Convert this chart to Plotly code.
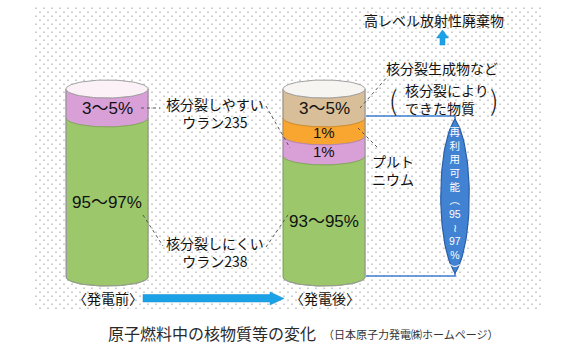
import numpy as np
import plotly.graph_objects as go

# ---------------- data ----------------
stages = ["〈発電前〉", "〈発電後〉"]
before_labels = ["3～5%", "95～97%"]
before_heights = [29, 159]
before_colors = ["#d9a0d8", "#9cc86b"]
after_labels = ["3～5%", "1%", "1%", "93～95%"]
after_heights = [29, 18, 20, 121]
after_colors = ["#d9bf99", "#f9a630", "#d9a0d8", "#9cc86b"]
label_sizes_before = [17, 17]
label_sizes_after = [17, 15, 15, 17]
reuse_chars = ["再", "利", "用", "可", "能", "︵", "95", "≀", "97", "%", "︶"]

FONT = "Noto Sans CJK JP, Noto Sans, sans-serif"
NUMFONT = "Liberation Sans, Arial, Noto Sans CJK JP, sans-serif"
W, H = 563, 350
RX, RY = 41, 9
TOP = 89
CX = [107, 324]

fig = go.Figure()

# ---------------- dotted background ----------------
dx, dy = [], []
row = 0
yy = 8.3
while yy <= 312:
    xx = 36 + (4 if row % 2 else 0)
    while xx <= 540:
        dx.append(xx)
        dy.append(yy)
        xx += 8
    yy += 4
    row += 1
fig.add_trace(go.Scatter(x=dx, y=dy, mode="markers", hoverinfo="skip",
                         marker=dict(symbol="square", size=1.4, color="#b8b8b8",
                                     line=dict(width=0))))


def arc(cx, y, t0, t1, n=40):
    t = np.linspace(t0, t1, n)
    return list(cx + RX * np.cos(t)), list(y + RY * np.sin(t))


def darker(hexc, f=0.8):
    h = hexc.lstrip("#")
    r, g, b = (int(h[i:i + 2], 16) for i in (0, 2, 4))
    return "#%02x%02x%02x" % (int(r * f), int(g * f), int(b * f))


def cylinder(cx, heights, colors, labels, sizes, topcol):
    edges = [TOP]
    for h in heights:
        edges.append(edges[-1] + h)
    for i, (h, c) in enumerate(zip(heights, colors)):
        y0, y1 = edges[i], edges[i + 1]
        ax1, ay1 = arc(cx, y1, np.pi, 0)
        ax0, ay0 = arc(cx, y0, 0, np.pi)
        fig.add_trace(go.Scatter(x=ax1 + ax0 + [ax1[0]], y=ay1 + ay0 + [ay1[0]],
                                 mode="lines", fill="toself", fillcolor=c,
                                 line=dict(color=darker(c, 0.85), width=1),
                                 hoverinfo="skip"))
        fig.add_annotation(x=cx, y=(y0 + y1) / 2 + RY * 0.6, text=labels[i],
                           showarrow=False, xanchor="center", yanchor="middle",
                           borderpad=0,
                           font=dict(family=NUMFONT, size=sizes[i], color="#111111"))
    bx, by = arc(cx, edges[-1], np.pi, 0)
    fig.add_trace(go.Scatter(x=[cx - RX] + bx + [cx + RX], y=[TOP] + by + [TOP],
                             mode="lines", line=dict(color="#9a9a9a", width=1),
                             hoverinfo="skip"))
    tx, ty = arc(cx, TOP, 0, 2 * np.pi, 80)
    fig.add_trace(go.Scatter(x=tx, y=ty, mode="lines", fill="toself", fillcolor=topcol,
                             line=dict(color="#a0a0a0", width=1), hoverinfo="skip"))
    return edges


cylinder(CX[0], before_heights, before_colors, before_labels, label_sizes_before, "#fbf1f6")
cylinder(CX[1], after_heights, after_colors, after_labels, label_sizes_after, "#f7f5f2")

# ---------------- dotted leader lines ----------------
leaders = [((141, 108), (160, 108)),
           ((266, 106), (290, 148)),
           ((143, 215), (163, 246)),
           ((266, 247), (290, 212)),
           ((360, 108), (388, 76)),
           ((358, 128), (378, 148))]
for (x0, y0), (x1, y1) in leaders:
    fig.add_trace(go.Scatter(x=[x0, x1], y=[y0, y1], mode="lines", hoverinfo="skip",
                             line=dict(color="#555555", width=1, dash="dot")))

# ---------------- blue bracket and lens ----------------
fig.add_trace(go.Scatter(x=[366, 455, 455, 366], y=[116, 116, 276, 276], mode="lines",
                         line=dict(color="#3f7fd0", width=1.6), hoverinfo="skip"))


def bez(p0, p1, p2, p3, n=40):
    t = np.linspace(0, 1, n)[:, None]
    p = ((1 - t) ** 3) * np.array(p0) + 3 * ((1 - t) ** 2) * t * np.array(p1) \
        + 3 * (1 - t) * t ** 2 * np.array(p2) + t ** 3 * np.array(p3)
    return p


r = bez((455, 119), (474, 147), (474, 245), (455, 273))
l = bez((455, 273), (436, 245), (436, 147), (455, 119))
lens = np.vstack([r, l])
fig.add_trace(go.Scatter(x=lens[:, 0], y=lens[:, 1], mode="lines", fill="toself",
                         fillcolor="#4282d2", line=dict(color="#2b5ea8", width=1.2),
                         hoverinfo="skip"))
fig.add_annotation(x=455, y=200, text="<br>".join(reuse_chars), showarrow=False,
                   xanchor="center", yanchor="middle", align="center", borderpad=0,
                   font=dict(family=NUMFONT, size=10.5, color="white"))

# ---------------- arrows ----------------
fig.add_trace(go.Scatter(x=[143, 270, 270, 284, 270, 270, 143, 143],
                         y=[294.5, 294.5, 292, 298.5, 305, 302, 302, 294.5],
                         mode="lines", fill="toself", fillcolor="#1ba1e6",
                         line=dict(color="#1b8fd0", width=0.5), hoverinfo="skip"))
fig.add_trace(go.Scatter(x=[440, 440, 436.5, 442.5, 448.5, 445, 445, 440],
                         y=[45, 38, 38, 30, 38, 38, 45, 45],
                         mode="lines", fill="toself", fillcolor="#1ba1e6",
                         line=dict(color="#1b8fd0", width=0.5), hoverinfo="skip"))

# ---------------- text ----------------
def txt(x, y, s, size=14, anchor="center", color="#111111", align="center"):
    fig.add_annotation(x=x, y=y, text=s, showarrow=False, xanchor=anchor,
                       yanchor="middle", align=align, borderpad=0,
                       font=dict(family=FONT, size=size, color=color))


txt(434, 20, "高レベル放射性廃棄物", 14)
txt(442, 68, "核分裂生成物など", 14)
txt(404, 99, "核分裂により<br>できた物質", 14, "left", align="left")
for px, ch in ((393, "("), (494, ")")):
    fig.add_annotation(x=px, y=99, text=ch, showarrow=False, borderpad=0,
                       font=dict(family="Noto Sans CJK JP", size=27, color="#1a1a1a",
                                 weight=300))
txt(214.5, 112.5, "核分裂しやすい<br>ウラン235", 14)
txt(215, 251.5, "核分裂しにくい<br>ウラン238", 14)
txt(371, 170, "プルト<br>ニウム", 14, "left", align="left")
txt(CX[0] + 1, 298, stages[0], 14)
txt(CX[1] + 1, 298, stages[1], 14)
txt(107, 333, "原子燃料中の核物質等の変化", 16, "left", "#2a2a2a")
txt(322, 334, "（日本原子力発電㈱ホームページ）", 11, "left", "#333333")

fig.update_layout(width=W, height=H, margin=dict(l=0, r=0, t=0, b=0),
                  paper_bgcolor="white", plot_bgcolor="white", showlegend=False,
                  xaxis=dict(range=[0, W], visible=False, fixedrange=True),
                  yaxis=dict(range=[H, 0], visible=False, fixedrange=True))
fig.write_html("out.html", config={"displayModeBar": False})
